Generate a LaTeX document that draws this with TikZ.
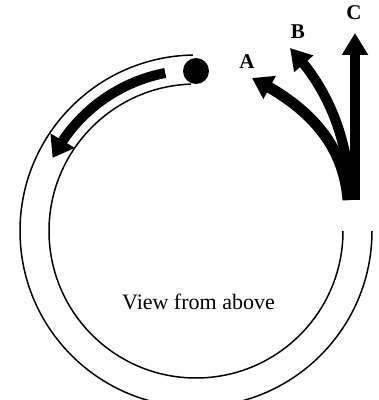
\documentclass[tikz,border=0pt]{standalone}
\usepackage{fontspec}
\setmainfont{Liberation Serif}
\usetikzlibrary{arrows.meta,bending}
\begin{document}
\begin{tikzpicture}[x=1pt,y=1pt,
  tube/.style={line width=1.5pt},
  fatarrow/.style={line width=#1, line cap=butt},
  lbl/.style={font=\fontsize{21}{21}\selectfont\bfseries, inner sep=0pt},
]
\useasboundingbox (0,0) rectangle (379,400);
\coordinate (ctr) at (196,169);
% tube
\draw[tube] (ctr) ++(91:176) arc[start angle=91, end angle=360, radius=176] coordinate (oend);
\draw[tube] (ctr) ++(92:147) arc[start angle=92, end angle=360, radius=147] coordinate (iend);
% ball
\fill (ctr) ++(90:160) circle[radius=13] coordinate (ball);
% arrow in tube
\draw[fatarrow=10pt, -{Triangle[width=27pt,length=20pt,flex]}]
  (ctr) ++(101:161) arc[start angle=101, end angle=153, radius=161];
% A, B, C arrows
\coordinate (base) at (352,200);
\draw[fatarrow=11pt, -{Triangle[width=25pt,length=20pt,flex]}]
  (348,200) .. controls (344,250) and (316,290) .. (252,322) coordinate (tipA);
\draw[fatarrow=10pt, -{Triangle[width=24pt,length=21pt,flex]}]
  (351,200) .. controls (348,260) and (330,310) .. (290,352) coordinate (tipB);
\draw[fatarrow=10pt, -{Triangle[width=25pt,length=22pt]}]
  (355,200) -- (355,367) coordinate (tipC);
\node[lbl] (A) at (247,338) {A};
\node[lbl] (B) at (298,368) {B};
\node[lbl] (C) at (354,387) {C};
\node[font=\fontsize{22}{22}\selectfont, inner sep=0pt] (txt) at (198.5,98.5) {View from above};
\end{tikzpicture}
\end{document}
